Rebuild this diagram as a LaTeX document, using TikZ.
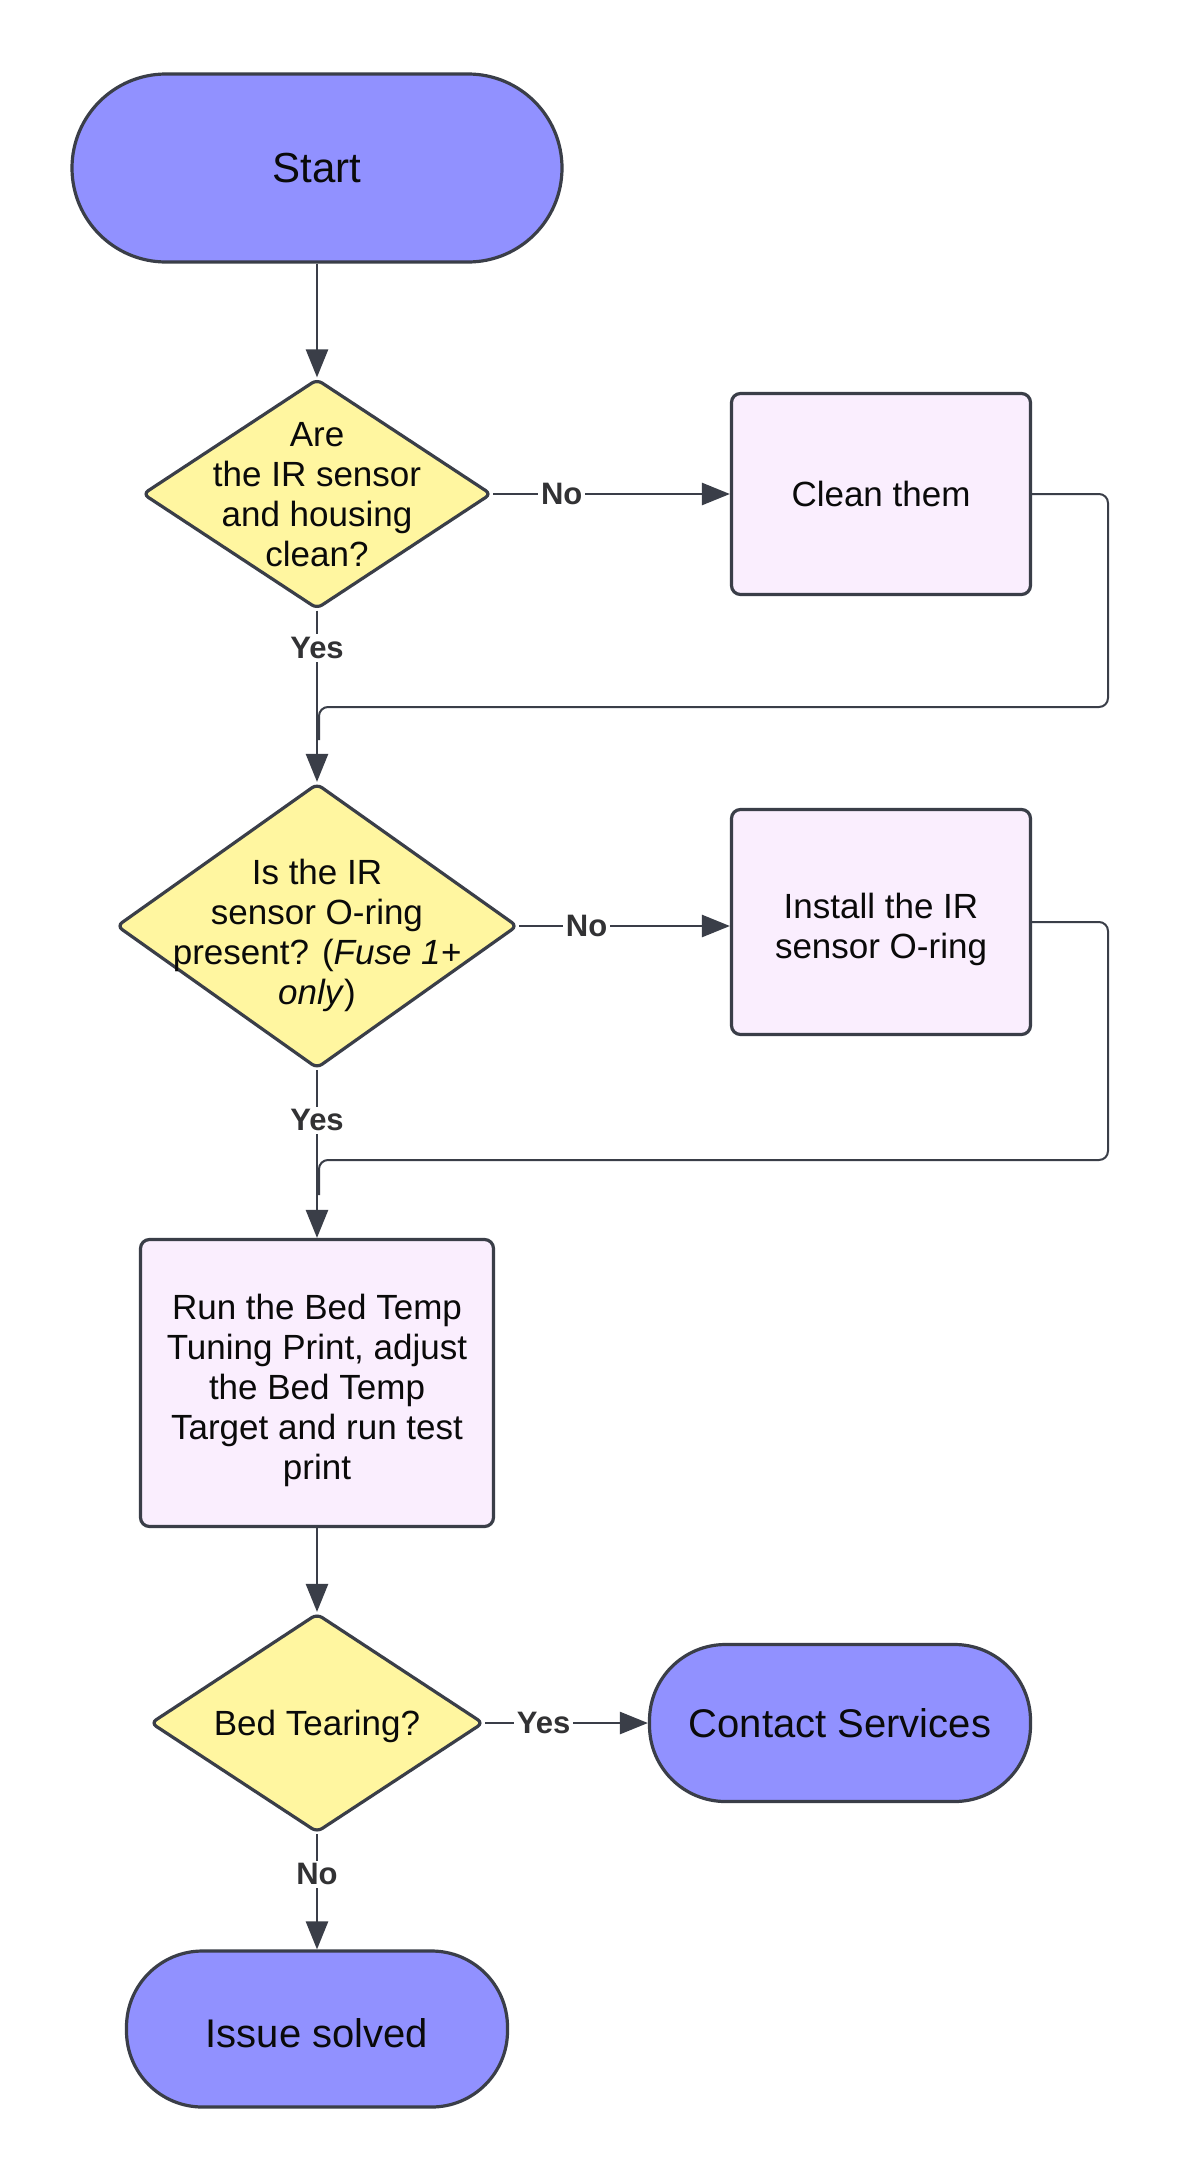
\documentclass[tikz,border=0pt]{standalone}
\usepackage{fontspec}
\setmainfont{Liberation Sans}
\usetikzlibrary{shapes.geometric,arrows.meta}
\definecolor{termc}{RGB}{145,145,255}
\definecolor{decc}{RGB}{255,246,160}
\definecolor{procc}{RGB}{250,238,254}
\definecolor{strk}{RGB}{58,62,72}
\definecolor{txt}{RGB}{10,10,10}
\definecolor{lblc}{RGB}{50,50,52}
\begin{document}
\begin{tikzpicture}[x=1pt,y=-1pt,
  termnode/.style={rectangle,draw=strk,line width=3.2pt,fill=termc,inner sep=0pt,text=txt,font=\fontsize{40}{46}\selectfont},
  decnode/.style={diamond,draw=strk,line width=3.2pt,fill=decc,inner sep=0pt,rounded corners=6pt},
  boxtext/.style={align=center,text=txt,inner sep=0pt,font=\fontsize{35}{40}\selectfont},
  procnode/.style={rectangle,draw=strk,line width=3.2pt,fill=procc,rounded corners=9pt,inner sep=0pt,align=center,text=txt,font=\fontsize{35}{40}\selectfont},
  conn/.style={draw=strk,line width=2.6pt,-{Triangle[length=28pt,width=22pt]}},
  ret/.style={draw=strk,line width=2pt,rounded corners=9pt},
  lbl/.style={fill=white,inner sep=3pt,text=lblc,font=\bfseries\fontsize{31}{36}\selectfont}]
\useasboundingbox (0,0) rectangle (1185,2184);
\fill[white] (0,0) rectangle (1185,2184);

% nodes
\node[termnode,minimum width=490pt,minimum height=188pt,rounded corners=94pt,font=\fontsize{42}{48}\selectfont] (start) at (317,168) {Start};

\node[decnode,minimum width=349pt,minimum height=230pt] (d1) at (317,494) {};
\node[boxtext] (d1t) at (317,495) {Are\\the IR sensor\\and housing\\clean?};

\node[procnode,minimum width=299pt,minimum height=201pt] (clean) at (881,494) {Clean them};

\node[decnode,minimum width=401pt,minimum height=285pt] (d2) at (317,926) {};
\node[boxtext] (d2t) at (317,935) {Is the IR\\sensor O-ring\\present? (\textit{Fuse 1+}\\\textit{only})};

\node[procnode,minimum width=299pt,minimum height=225pt] (install) at (881,922) {};
\node[boxtext] (installt) at (881,929) {Install the IR\\sensor O-ring};

\node[procnode,minimum width=353pt,minimum height=287pt] (run) at (317,1383) {};
\node[boxtext] (runt) at (317,1390) {Run the Bed Temp\\Tuning Print, adjust\\the Bed Temp\\Target and run test\\print};

\node[decnode,minimum width=333pt,minimum height=219pt] (d3) at (317,1723) {};
\node[boxtext] (d3t) at (317,1726) {Bed Tearing?};

\node[termnode,minimum width=381pt,minimum height=157pt,rounded corners=76pt] (contact) at (840,1723) {Contact Services};

\node[termnode,minimum width=381pt,minimum height=156pt,rounded corners=76pt] (issue) at (317,2029) {};
\node[boxtext,font=\fontsize{40}{46}\selectfont] (issuet) at (317,2033) {Issue solved};

% helper coordinates for return lines
\coordinate (c1a) at (1108,494);
\coordinate (c1b) at (1108,707);
\coordinate (j1) at (319,707);
\coordinate (j1b) at (319,740);
\coordinate (c2a) at (1108,922);
\coordinate (c2b) at (1108,1160);
\coordinate (j2) at (319,1160);
\coordinate (j2b) at (319,1195);

% connectors
\draw[conn] (start) -- (d1);
\draw[conn] (d1) -- node[lbl,pos=0.29]{No} (clean);
\draw[ret] (clean.east) -- (c1a) -- (c1b) -- (j1) -- (j1b);
\draw[conn] (d1) -- node[lbl,pos=0.22]{Yes} (d2);
\draw[conn] (d2.east) -- node[lbl,pos=0.32]{No} (d2.east -| install.west);
\draw[ret] (install.east) -- (c2a) -- (c2b) -- (j2) -- (j2b);
\draw[conn] (d2) -- node[lbl,pos=0.3]{Yes} (run);
\draw[conn] (run) -- (d3);
\draw[conn] (d3) -- node[lbl,pos=0.36]{Yes} (contact);
\draw[conn] (d3) -- node[lbl,pos=0.35]{No} (issue);
\end{tikzpicture}
\end{document}
